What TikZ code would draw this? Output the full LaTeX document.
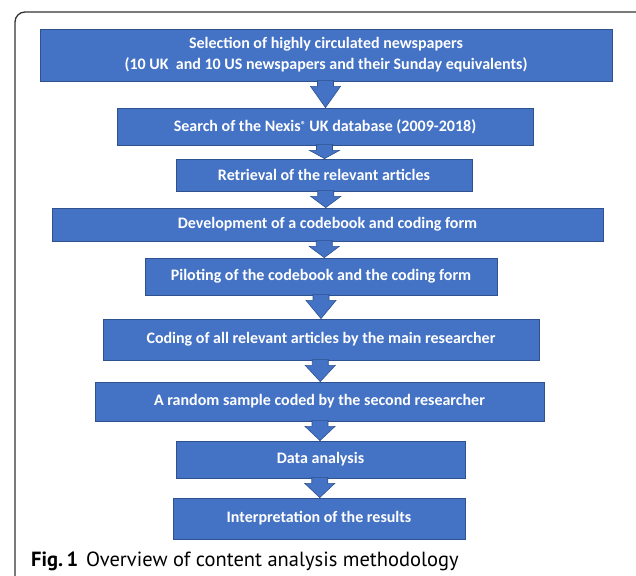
\documentclass[tikz,border=0pt]{standalone}
\usepackage{fontspec}
\setmainfont{Carlito}
\newfontfamily\capfont{PT Sans}
\usetikzlibrary{calc}
\definecolor{boxblue}{HTML}{4472C4}
\definecolor{boxedge}{HTML}{2F528F}
\definecolor{framegray}{HTML}{333333}
\tikzset{
  flowbox/.style={rectangle, fill=boxblue, draw=boxedge, line width=0.8pt,
    text=white, align=center, inner sep=0pt,
    font=\fontsize{16}{21}\selectfont\bfseries},
  arrowfill/.style={fill=boxblue, draw=boxedge, line width=0.6pt, line join=miter},
}
\newcommand\flowarrow[2]{%
  \coordinate (mid-#1-#2) at ($(#1.south)!0.5!(#2.north)$);
  \filldraw[arrowfill] let \p1=(#1.south), \p2=(#2.north), \p3=(mid-#1-#2) in
    (\x3-8pt,\y1+1pt) -- (\x3+8pt,\y1+1pt) -- (\x3+8pt,\y1-5pt) --
    (\x3+15pt,\y1-5pt) -- (\x3,\y2) -- (\x3-15pt,\y1-5pt) --
    (\x3-8pt,\y1-5pt) -- cycle;}
\begin{document}
\begin{tikzpicture}[x=1pt,y=-1pt]
  \useasboundingbox[fill=white] (0,0) rectangle (636,575);
  % frame
  \draw[framegray, line width=1.3pt, rounded corners=10pt] (15,600) -- (15,12) -- (660,12);
  % boxes
  \node[flowbox, minimum width=572pt, minimum height=52pt] (b1) at (326,55)
    {Selection of highly circulated newspapers\\(10 UK\ \ and 10 US newspapers and their Sunday equivalents)};
  \node[flowbox, minimum width=416pt, minimum height=37pt] (b2) at (325,126.5)
    {Search of the Nexis\raisebox{0.35ex}{\fontsize{10}{10}\selectfont ®} UK database (2009-2018)};
  \node[flowbox, minimum width=296pt, minimum height=32pt] (b3) at (324,175)
    {Retrieval of the relevant articles};
  \node[flowbox, minimum width=551pt, minimum height=33pt] (b4) at (327.5,224.5)
    {Development of a codebook and coding form};
  \node[flowbox, minimum width=352pt, minimum height=37pt] (b5) at (321,276.5)
    {Piloting of the codebook and the coding form};
  \node[flowbox, minimum width=436pt, minimum height=41pt] (b6) at (321,339.5)
    {Coding of all relevant articles by the main researcher};
  \node[flowbox, minimum width=449pt, minimum height=39pt] (b7) at (319.5,401.5)
    {A random sample coded by the second researcher};
  \node[flowbox, minimum width=289pt, minimum height=37pt] (b8) at (320.5,459.5)
    {Data analysis};
  \node[flowbox, minimum width=292pt, minimum height=41pt] (b9) at (319,518.5)
    {Interpretation of the results};
  % arrows
  \flowarrow{b1}{b2}
  \flowarrow{b2}{b3}
  \flowarrow{b3}{b4}
  \flowarrow{b4}{b5}
  \flowarrow{b5}{b6}
  \flowarrow{b6}{b7}
  \flowarrow{b7}{b8}
  \flowarrow{b8}{b9}
  % caption
  \node[anchor=base west, inner sep=0pt, font=\capfont\fontsize{20.5}{24}\selectfont] (cap) at (31,566)
    {\textbf{Fig.\,1}\hspace{8pt}Overview of content analysis methodology};
\end{tikzpicture}
\end{document}
